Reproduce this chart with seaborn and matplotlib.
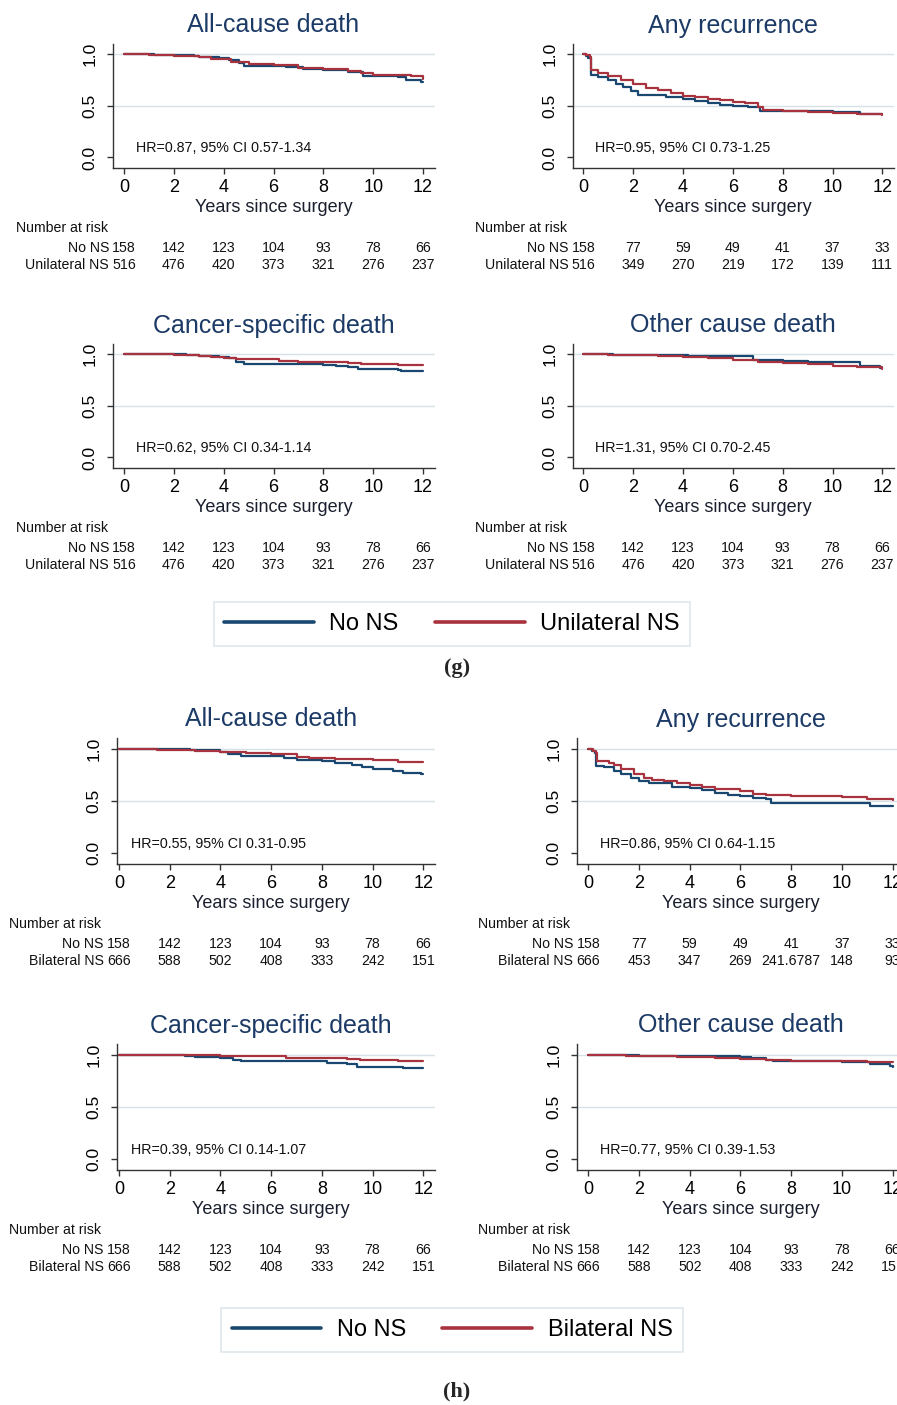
import matplotlib
matplotlib.use("Agg")
import matplotlib.pyplot as plt
import matplotlib.transforms as mtransforms
from matplotlib.lines import Line2D
import numpy as np
import pandas as pd
import seaborn as sns

sns.set_theme(style="white")
plt.rcParams["font.family"] = ["Liberation Sans", "DejaVu Sans"]

W, H = 897, 1405

# ---------------------------------------------------------------- data
years_ticks = [0, 2, 4, 6, 8, 10, 12]

# (g) No NS vs Unilateral NS -- Kaplan-Meier step knots (time, survival)
g_allcause_no_t = [0, 1.2, 2.8, 3.0, 3.8, 4.2, 4.6, 4.8, 6.5, 7.2, 8.0, 9.0, 9.6, 11.0, 11.3, 11.9, 12]
g_allcause_no_s = [1.0, 0.995, 0.985, 0.975, 0.96, 0.948, 0.92, 0.888, 0.88, 0.86, 0.85, 0.83, 0.79, 0.78, 0.755, 0.73, 0.73]
g_allcause_uni_t = [0, 1.0, 2.0, 3.0, 3.5, 4.3, 5.0, 6.0, 7.0, 8.0, 9.0, 9.5, 10.0, 11.5, 12]
g_allcause_uni_s = [1.0, 0.995, 0.985, 0.97, 0.955, 0.93, 0.91, 0.895, 0.87, 0.855, 0.84, 0.82, 0.80, 0.79, 0.765]

g_recur_no_t = [0, 0.1, 0.2, 0.3, 0.6, 1.0, 1.3, 1.6, 1.9, 2.2, 3.3, 4.0, 4.5, 5.0, 5.5, 6.0, 6.6, 7.1, 8.0, 10.0, 11.1, 12]
g_recur_no_s = [1.0, 0.98, 0.96, 0.80, 0.78, 0.75, 0.71, 0.68, 0.64, 0.605, 0.585, 0.57, 0.55, 0.53, 0.51, 0.50, 0.49, 0.455, 0.45, 0.44, 0.42, 0.42]
g_recur_uni_t = [0, 0.1, 0.25, 0.3, 0.6, 1.0, 1.5, 2.0, 2.5, 3.0, 3.5, 4.0, 4.5, 5.0, 5.5, 6.0, 6.5, 7.0, 7.2, 8.0, 9.0, 10.0, 11.0, 12]
g_recur_uni_s = [1.0, 0.99, 0.97, 0.845, 0.82, 0.79, 0.75, 0.71, 0.67, 0.65, 0.625, 0.60, 0.585, 0.57, 0.56, 0.54, 0.525, 0.485, 0.46, 0.45, 0.44, 0.43, 0.42, 0.41]

g_cancer_no_t = [0, 2.5, 3.0, 3.8, 4.2, 4.5, 4.8, 8.0, 8.5, 9.0, 9.4, 11.0, 11.1, 12]
g_cancer_no_s = [1.0, 0.99, 0.98, 0.97, 0.96, 0.93, 0.91, 0.90, 0.89, 0.88, 0.86, 0.85, 0.84, 0.84]
g_cancer_uni_t = [0, 2.0, 3.0, 3.5, 4.0, 4.5, 6.2, 7.0, 9.0, 9.5, 11.0, 11.8, 12]
g_cancer_uni_s = [1.0, 0.995, 0.985, 0.975, 0.965, 0.955, 0.94, 0.93, 0.92, 0.91, 0.90, 0.895, 0.895]

g_other_no_t = [0, 1.2, 4.0, 4.2, 6.0, 6.8, 8.0, 9.0, 9.8, 11.1, 11.9, 12]
g_other_no_s = [1.0, 0.997, 0.99, 0.985, 0.98, 0.945, 0.935, 0.93, 0.925, 0.89, 0.87, 0.87]
g_other_uni_t = [0, 1.0, 2.6, 3.0, 4.0, 5.0, 6.0, 7.0, 8.0, 9.0, 10.0, 11.0, 12]
g_other_uni_s = [1.0, 0.995, 0.99, 0.985, 0.975, 0.96, 0.945, 0.93, 0.92, 0.905, 0.89, 0.875, 0.86]

# (h) No NS vs Bilateral NS
h_allcause_no_t = [0, 1.2, 2.8, 3.0, 4.0, 4.3, 4.8, 6.5, 7.0, 8.0, 8.5, 9.2, 9.6, 10.0, 10.8, 11.2, 11.9, 12]
h_allcause_no_s = [1.0, 0.997, 0.99, 0.985, 0.97, 0.95, 0.925, 0.91, 0.89, 0.88, 0.86, 0.84, 0.82, 0.80, 0.79, 0.77, 0.755, 0.755]
h_allcause_bi_t = [0, 1.0, 1.5, 2.0, 3.0, 4.0, 5.0, 6.0, 7.0, 7.5, 8.5, 10.0, 11.0, 12]
h_allcause_bi_s = [1.0, 0.995, 0.99, 0.985, 0.975, 0.97, 0.96, 0.945, 0.92, 0.905, 0.90, 0.89, 0.875, 0.868]

h_recur_no_t = [0, 0.15, 0.25, 0.3, 0.6, 1.0, 1.3, 1.7, 2.0, 2.4, 3.3, 4.0, 4.5, 5.0, 5.5, 6.0, 6.5, 7.0, 7.2, 11.1, 12]
h_recur_no_s = [1.0, 0.98, 0.96, 0.835, 0.82, 0.79, 0.76, 0.72, 0.69, 0.67, 0.63, 0.62, 0.60, 0.58, 0.56, 0.55, 0.53, 0.52, 0.48, 0.455, 0.455]
h_recur_bi_t = [0, 0.2, 0.3, 0.35, 0.8, 1.0, 1.3, 1.8, 2.2, 2.5, 3.0, 3.5, 4.0, 4.5, 5.0, 6.0, 6.5, 7.0, 8.0, 10.0, 11.0, 12]
h_recur_bi_s = [1.0, 0.98, 0.96, 0.88, 0.86, 0.84, 0.80, 0.76, 0.72, 0.70, 0.69, 0.67, 0.65, 0.63, 0.61, 0.59, 0.57, 0.56, 0.55, 0.54, 0.52, 0.51]

h_cancer_no_t = [0, 2.0, 2.6, 3.0, 4.0, 4.5, 4.8, 8.2, 9.0, 9.4, 11.2, 12]
h_cancer_no_s = [1.0, 0.995, 0.985, 0.975, 0.965, 0.95, 0.935, 0.915, 0.905, 0.878, 0.87, 0.87]
h_cancer_bi_t = [0, 2.0, 4.0, 6.6, 9.0, 9.5, 10.5, 11.0, 12]
h_cancer_bi_s = [1.0, 0.995, 0.99, 0.965, 0.955, 0.95, 0.945, 0.94, 0.935]

h_other_no_t = [0, 1.2, 2.0, 4.0, 6.0, 6.4, 7.0, 7.3, 9.0, 10.0, 11.1, 11.9, 12]
h_other_no_s = [1.0, 0.995, 0.99, 0.985, 0.98, 0.965, 0.95, 0.94, 0.935, 0.93, 0.91, 0.89, 0.88]
h_other_bi_t = [0, 1.5, 2.0, 3.5, 5.0, 6.0, 7.0, 8.0, 10.0, 11.0, 12]
h_other_bi_s = [1.0, 0.99, 0.985, 0.98, 0.97, 0.955, 0.945, 0.94, 0.935, 0.93, 0.93]

# Numbers at risk at years 0, 2, ..., 12
risk_no_death = [158, 142, 123, 104, 93, 78, 66]
risk_no_recur = [158, 77, 59, 49, 41, 37, 33]
risk_uni_death = [516, 476, 420, 373, 321, 276, 237]
risk_uni_recur = [516, 349, 270, 219, 172, 139, 111]
risk_bi_death = [666, 588, 502, 408, 333, 242, 151]
risk_bi_recur = [666, 453, 347, 269, 241.6787, 148, 93]

hr_labels = {
    "g_all": "HR=0.87, 95% CI 0.57-1.34",
    "g_rec": "HR=0.95, 95% CI 0.73-1.25",
    "g_can": "HR=0.62, 95% CI 0.34-1.14",
    "g_oth": "HR=1.31, 95% CI 0.70-2.45",
    "h_all": "HR=0.55, 95% CI 0.31-0.95",
    "h_rec": "HR=0.86, 95% CI 0.64-1.15",
    "h_can": "HR=0.39, 95% CI 0.14-1.07",
    "h_oth": "HR=0.77, 95% CI 0.39-1.53",
}

# ---------------------------------------------------------------- style
C_NO = "#1a476f"
C_NS = "#a8323e"
GRID = "#d6e2e7"
TITLE_C = "#1c3a66"
LABEL_C = "#1a1f2e"

fig = plt.figure(figsize=(W / 100, H / 100), dpi=100)
fig.patch.set_facecolor("white")


def fy(py):
    return 1 - py / H


def add_panel(left_px, x0_px, unit_px, top_px, bottom_px, title, curves,
              palette, hr, risk_rows):
    """left_px: spine position, x0_px: pixel of year 0, unit_px: pixels per year."""
    xmin = (left_px - x0_px) / unit_px
    xmax = 12.47
    right_px = x0_px + xmax * unit_px
    ax = fig.add_axes([left_px / W, fy(bottom_px), (right_px - left_px) / W,
                       (bottom_px - top_px) / H])
    ax.set_xlim(xmin, xmax)
    ax.set_ylim(-0.105, 1.105)

    for yv in (0.5, 1.0):
        ax.axhline(yv, color=GRID, lw=1.0, zorder=0)

    frames = []
    for name, (t, s) in curves.items():
        frames.append(pd.DataFrame({"years": t, "surv": s, "group": name}))
    df = pd.concat(frames, ignore_index=True)
    sns.lineplot(data=df, x="years", y="surv", hue="group", palette=palette,
                 estimator=None, sort=False, drawstyle="steps-post",
                 lw=1.6, legend=False, ax=ax, zorder=3)

    ax.set_xticks(years_ticks)
    ax.set_yticks([0.0, 0.5, 1.0])
    ax.set_yticklabels(["0.0", "0.5", "1.0"], rotation=90, va="center")
    ax.set_xlabel("")
    ax.set_ylabel("")
    for side in ("top", "right"):
        ax.spines[side].set_visible(False)
    for side in ("left", "bottom"):
        ax.spines[side].set_color("#333333")
        ax.spines[side].set_linewidth(1.0)
    ax.tick_params(axis="x", length=4.5, width=1, color="#333333", pad=3.5,
                   labelsize=13, labelcolor="black", direction="out", bottom=True)
    ax.tick_params(axis="y", length=4.5, width=1, color="#333333", pad=6.5,
                   labelsize=12.5, labelcolor="black", direction="out", left=True)
    ax.grid(False)

    ax.text(0.48, 0.055, hr, fontsize=10.3, color="#111111", va="baseline", ha="left")

    tr = mtransforms.blended_transform_factory(ax.transData, fig.transFigure)
    ax.text(6, fy(top_px - 11), title, transform=tr, ha="center", va="baseline",
            fontsize=18, color=TITLE_C)
    ax.text(6, fy(bottom_px + 44), "Years since surgery", transform=tr,
            ha="center", va="baseline", fontsize=13, color=LABEL_C)
    ax.text(-4.35, fy(bottom_px + 64), "Number at risk", transform=tr,
            ha="left", va="baseline", fontsize=10.2, color="#111111")
    for k, (label, values) in enumerate(risk_rows):
        yb = fy(bottom_px + 84 + 16.3 * k)
        ax.text(-0.6, yb, label, transform=tr, ha="right", va="baseline",
                fontsize=10.2, color="#111111")
        for xv, n in zip(years_ticks, values):
            ax.text(xv, yb, str(n), transform=tr, ha="center", va="baseline",
                    fontsize=10.2, color="#111111")
    return ax


pal_g = {"No NS": C_NO, "Unilateral NS": C_NS}
pal_h = {"No NS": C_NO, "Bilateral NS": C_NS}

# ---- (g)
for dy, title, key, c_no, c_uni, r_no, r_uni in [
    (0, "All-cause death", "g_all", (g_allcause_no_t, g_allcause_no_s),
     (g_allcause_uni_t, g_allcause_uni_s), risk_no_death, risk_uni_death),
    (300, "Cancer-specific death", "g_can", (g_cancer_no_t, g_cancer_no_s),
     (g_cancer_uni_t, g_cancer_uni_s), risk_no_death, risk_uni_death),
]:
    add_panel(112.7, 124.0, 24.92, 43.5 + dy, 168.3 + dy, title,
              {"No NS": c_no, "Unilateral NS": c_uni}, pal_g, hr_labels[key],
              [("No NS", r_no), ("Unilateral NS", r_uni)])

for dy, title, key, c_no, c_uni, r_no, r_uni in [
    (0, "Any recurrence", "g_rec", (g_recur_no_t, g_recur_no_s),
     (g_recur_uni_t, g_recur_uni_s), risk_no_recur, risk_uni_recur),
    (300, "Other cause death", "g_oth", (g_other_no_t, g_other_no_s),
     (g_other_uni_t, g_other_uni_s), risk_no_death, risk_uni_death),
]:
    add_panel(572.7, 583.3, 24.92, 43.5 + dy, 168.3 + dy, title,
              {"No NS": c_no, "Unilateral NS": c_uni}, pal_g, hr_labels[key],
              [("No NS", r_no), ("Unilateral NS", r_uni)])

# ---- (h)
for dy, title, key, c_no, c_bi, r_no, r_bi in [
    (0, "All-cause death", "h_all", (h_allcause_no_t, h_allcause_no_s),
     (h_allcause_bi_t, h_allcause_bi_s), risk_no_death, risk_bi_death),
    (306, "Cancer-specific death", "h_can", (h_cancer_no_t, h_cancer_no_s),
     (h_cancer_bi_t, h_cancer_bi_s), risk_no_death, risk_bi_death),
]:
    add_panel(116.7, 119.0, 25.36, 737.5 + dy, 864.3 + dy, title,
              {"No NS": c_no, "Bilateral NS": c_bi}, pal_h, hr_labels[key],
              [("No NS", r_no), ("Bilateral NS", r_bi)])

for dy, title, key, c_no, c_bi, r_no, r_bi in [
    (0, "Any recurrence", "h_rec", (h_recur_no_t, h_recur_no_s),
     (h_recur_bi_t, h_recur_bi_s), risk_no_recur, risk_bi_recur),
    (306, "Other cause death", "h_oth", (h_other_no_t, h_other_no_s),
     (h_other_bi_t, h_other_bi_s), risk_no_death, risk_bi_death),
]:
    add_panel(576.7, 588.3, 25.36, 737.5 + dy, 864.3 + dy, title,
              {"No NS": c_no, "Bilateral NS": c_bi}, pal_h, hr_labels[key],
              [("No NS", r_no), ("Bilateral NS", r_bi)])

# ---- legends and panel letters
for yc, names in [(624, ["No NS", "Unilateral NS"]), (1330, ["No NS", "Bilateral NS"])]:
    handles = [Line2D([], [], color=C_NO, lw=2.6), Line2D([], [], color=C_NS, lw=2.6)]
    leg = fig.legend(handles, names, loc="center", bbox_to_anchor=(452 / W, fy(yc)),
                     ncol=2, fontsize=17, frameon=True, fancybox=False,
                     handlelength=3.8, handletextpad=0.65, columnspacing=1.55,
                     borderpad=0.45, borderaxespad=0)
    leg.get_frame().set_edgecolor(GRID)
    leg.get_frame().set_linewidth(1.2)
    for t in leg.get_texts():
        t.set_color("black")

fig.text(457 / W, fy(668), "(g)", ha="center", va="center", fontsize=16,
         family=["Liberation Serif", "DejaVu Serif"], fontweight="bold")
fig.text(457 / W, fy(1391), "(h)", ha="center", va="center", fontsize=16,
         family=["Liberation Serif", "DejaVu Serif"], fontweight="bold")

fig.savefig("out.png", dpi=100, facecolor="white")
